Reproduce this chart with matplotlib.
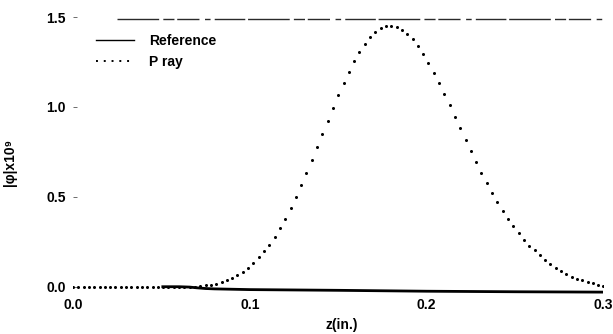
import matplotlib
matplotlib.use("Agg")
import matplotlib.pyplot as plt
from matplotlib.lines import Line2D

plt.rcParams['font.family'] = ['Liberation Sans', 'DejaVu Sans']

pray_z = [0.000, 0.003, 0.006, 0.009, 0.012, 0.015, 0.018, 0.021, 0.024, 0.027,
          0.030, 0.033, 0.036, 0.039, 0.042, 0.045, 0.048, 0.051, 0.054, 0.057,
          0.060, 0.063, 0.066, 0.069, 0.072, 0.075, 0.078, 0.081, 0.084, 0.087,
          0.090, 0.093, 0.096, 0.099, 0.102, 0.105, 0.108, 0.111, 0.114, 0.117,
          0.120, 0.123, 0.126, 0.129, 0.132, 0.135, 0.138, 0.141, 0.144, 0.147,
          0.150, 0.153, 0.156, 0.159, 0.162, 0.165, 0.168, 0.171, 0.174, 0.177,
          0.180, 0.183, 0.186, 0.189, 0.192, 0.195, 0.198, 0.201, 0.204, 0.207,
          0.210, 0.213, 0.216, 0.219, 0.222, 0.225, 0.228, 0.231, 0.234, 0.237,
          0.240, 0.243, 0.246, 0.249, 0.252, 0.255, 0.258, 0.261, 0.264, 0.267,
          0.270, 0.273, 0.276, 0.279, 0.282, 0.285, 0.288, 0.291, 0.294, 0.297,
          0.300]
pray_val = [0.000, 0.000, 0.000, 0.000, 0.000, 0.000, 0.000, 0.000, 0.000, 0.000,
            0.000, 0.000, 0.000, 0.000, 0.000, 0.000, 0.000, 0.000, 0.000, 0.000,
            0.000, 0.000, 0.000, 0.000, 0.004, 0.008, 0.011, 0.015, 0.024, 0.037,
            0.048, 0.063, 0.083, 0.106, 0.132, 0.164, 0.197, 0.234, 0.275, 0.325,
            0.378, 0.436, 0.497, 0.566, 0.631, 0.705, 0.779, 0.848, 0.922, 0.996,
            1.066, 1.131, 1.196, 1.255, 1.307, 1.352, 1.387, 1.418, 1.440, 1.451,
            1.451, 1.443, 1.428, 1.404, 1.380, 1.339, 1.294, 1.246, 1.190, 1.135,
            1.073, 1.011, 0.945, 0.881, 0.818, 0.757, 0.695, 0.635, 0.575, 0.523,
            0.473, 0.423, 0.378, 0.338, 0.299, 0.260, 0.228, 0.202, 0.175, 0.150,
            0.126, 0.106, 0.087, 0.071, 0.056, 0.044, 0.036, 0.026, 0.019, 0.011,
            0.004]

# Reference curve
ref_z = [0.050, 0.060, 0.066, 0.070, 0.075, 0.080, 0.100, 0.150, 0.200, 0.250, 0.300]
ref_val = [0.000, 0.000, -0.002, -0.006, -0.010, -0.012, -0.016, -0.020, -0.025, -0.028, -0.030]

legend_labels = ["Reference", "P ray"]
xticks = [0.0, 0.1, 0.2, 0.3]
xtick_labels = ["0.0", "0.1", "0.2", "0.3"]
yticks = [0.0, 0.5, 1.0, 1.5]
ytick_labels = ["0.0", "0.5", "1.0", "1.5"]

fig = plt.figure(figsize=(6.13, 3.34), dpi=100)
ax = fig.add_axes([0.1191, 0.120, 0.8654, 0.829])

ax.plot(ref_z, ref_val, color='black', lw=2.0, solid_capstyle='butt')
ax.plot(pray_z, pray_val, linestyle='none', marker='o', ms=2.2,
        mec='black', mfc='black', mew=0)

ax.set_xlim(0, 0.3)
ax.set_ylim(-0.04, 1.5)

# faint broken top frame line
ax.axhline(1.49, xmin=0.083, xmax=1.0, color='#2a2a2a', lw=1.0,
           linestyle=(0, (30, 3, 8, 2, 16, 4, 4, 3, 22, 2)))

for s in ax.spines.values():
    s.set_visible(False)

ax.set_xticks(xticks)
ax.set_xticklabels(xtick_labels)
ax.set_yticks(yticks)
ax.set_yticklabels(ytick_labels)
ax.tick_params(axis='x', length=0, pad=3, labelsize=10)
ax.tick_params(axis='y', direction='in', length=3, width=0.6, color='#555555',
               pad=5, labelsize=10)
for lab in ax.get_xticklabels() + ax.get_yticklabels():
    lab.set_fontweight('bold')

ax.set_xlabel("z(in.)", fontsize=10, fontweight='bold')
ax.xaxis.set_label_coords(0.507, -0.088)
ax.set_ylabel("|φ|x10⁹", fontsize=10, fontweight='bold')
ax.yaxis.set_label_coords(-0.105, 0.475)

handles = [Line2D([], [], color='black', lw=1.0),
           Line2D([], [], color='black', lw=1.4, linestyle=(0, (1, 3)))]
ax.legend(handles, legend_labels, loc='upper left', bbox_to_anchor=(0.02, 0.985),
          frameon=False, handlelength=2.7, handletextpad=1.1, labelspacing=0.55,
          prop={'size': 10, 'weight': 'bold'})

fig.savefig("out.png", dpi=100)
